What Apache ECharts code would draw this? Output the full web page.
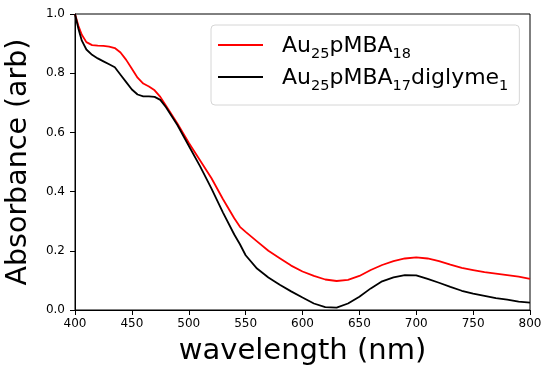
<!DOCTYPE html>
<html>
<head>
<meta charset="utf-8">
<script src="https://cdn.jsdelivr.net/npm/echarts@6/dist/echarts.min.js"></script>
<style>html,body{margin:0;padding:0;background:#fff;}#c{width:550px;height:373px;}</style>
</head>
<body>
<div id="c"></div>
<script>
const wavelengths = [400,403,406,410,415,420,425,430,435,440,445,450,455,460,465,470,475,480,490,500,510,520,530,540,545,550,560,570,580,590,600,610,620,630,640,650,660,670,680,690,700,710,720,730,740,750,760,770,780,790,800];
const redValues = [1.00,0.96,0.93,0.905,0.895,0.893,0.892,0.89,0.885,0.87,0.845,0.815,0.785,0.765,0.755,0.742,0.72,0.69,0.63,0.565,0.505,0.445,0.375,0.31,0.281,0.264,0.232,0.2,0.175,0.15,0.13,0.115,0.103,0.098,0.102,0.115,0.135,0.152,0.165,0.174,0.178,0.174,0.165,0.153,0.142,0.135,0.128,0.123,0.118,0.113,0.105];
const blackValues = [1.00,0.95,0.91,0.88,0.862,0.85,0.84,0.83,0.82,0.795,0.77,0.745,0.728,0.722,0.722,0.72,0.71,0.685,0.625,0.555,0.485,0.41,0.33,0.255,0.222,0.185,0.14,0.11,0.085,0.063,0.042,0.022,0.01,0.008,0.022,0.045,0.073,0.097,0.11,0.118,0.117,0.105,0.092,0.078,0.065,0.055,0.048,0.04,0.035,0.028,0.025];
const seriesNames = ['Au25pMBA18','Au25pMBA17diglyme1'];
const legendRich = {
  'Au25pMBA18': '{n|Au}{s|25}{n|pMBA}{s|18}',
  'Au25pMBA17diglyme1': '{n|Au}{s|25}{n|pMBA}{s|17}{n|diglyme}{s|1}'
};
const font = 'DejaVu Sans';
const chart = echarts.init(document.getElementById('c'));
chart.setOption({
  animation: false,
  backgroundColor: '#fff',
  grid: {left: 75, right: 20, top: 14, bottom: 63, show: true, borderColor: '#000', borderWidth: 1, backgroundColor: 'transparent', containLabel: false, outerBoundsMode: 'none'},
  xAxis: {
    type: 'value', min: 400, max: 800, interval: 50,
    name: 'wavelength (nm)', nameLocation: 'middle', nameGap: 27,
    nameTextStyle: {fontFamily: font, fontSize: 29, color: '#000'},
    axisLine: {show: true, lineStyle: {color: '#000', width: 1}},
    axisTick: {show: true, length: 5, lineStyle: {color: '#000'}},
    axisLabel: {fontFamily: font, fontSize: 12, color: '#000', margin: 8},
    splitLine: {show: false}
  },
  yAxis: {
    type: 'value', min: 0, max: 1.0, interval: 0.2,
    name: 'Absorbance (arb)', nameLocation: 'middle', nameGap: 42,
    nameTextStyle: {fontFamily: font, fontSize: 28.5, color: '#000'},
    axisLine: {show: true, lineStyle: {color: '#000', width: 1}},
    axisTick: {show: true, length: 5, lineStyle: {color: '#000'}},
    axisLabel: {fontFamily: font, fontSize: 12, color: '#000', margin: 10, formatter: v => v.toFixed(1)},
    splitLine: {show: false}
  },
  legend: {
    orient: 'vertical', left: 211, top: 25, padding: [10, 11, 11, 7],
    icon: 'rect', itemWidth: 45, itemHeight: 2, itemGap: 5,
    borderColor: '#d6d6d6', borderWidth: 1, borderRadius: 4, backgroundColor: 'rgba(255,255,255,0.8)',
    data: seriesNames,
    formatter: name => legendRich[name],
    textStyle: {
      fontFamily: font, color: '#000', padding: [0, 0, 0, 14],
      rich: {
        n: {fontFamily: font, fontSize: 22, color: '#000', lineHeight: 24, verticalAlign: 'bottom'},
        s: {fontFamily: font, fontSize: 14.5, color: '#000', lineHeight: 24, verticalAlign: 'bottom', padding: [0,0,-5,0]}
      }
    }
  },
  series: [
    {name: seriesNames[0], type: 'line', symbol: 'none', data: wavelengths.map((w,i)=>[w, redValues[i]]), lineStyle: {color: '#ff0000', width: 1.8}, itemStyle: {color: '#ff0000'}},
    {name: seriesNames[1], type: 'line', symbol: 'none', data: wavelengths.map((w,i)=>[w, blackValues[i]]), lineStyle: {color: '#000000', width: 1.8}, itemStyle: {color: '#000000'}}
  ]
});
</script>
</body>
</html>
